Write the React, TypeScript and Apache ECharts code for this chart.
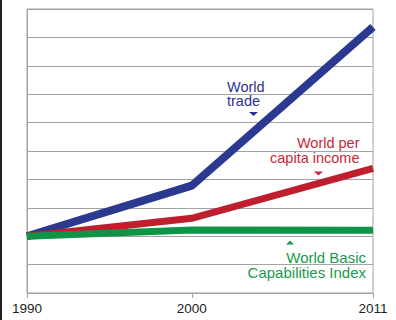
import React, { useEffect, useRef } from "react";
import * as echarts from "echarts";

const years = [1990, 2000, 2011];
const tradeValues = [2.0, 3.78, 9.37];
const incomeValues = [2.0, 2.63, 4.39];
const basicValues = [2.0, 2.22, 2.21];
const tickYears = [1990, 2000, 2011];

const FONT = '"Liberation Sans", Arial, sans-serif';

export default function App() {
  const ref = useRef<HTMLDivElement>(null);
  useEffect(() => {
    if (!ref.current) return;
    const chart = echarts.init(ref.current, undefined, { renderer: "svg" });
    const mk = (vals: number[]) => years.map((y, i) => [y, vals[i]]);
    const txt = (text: string, x: number, y: number, fill: string, align: string, fontSize: number, lineHeight: number) => ({
      type: "text",
      x,
      y,
      style: { text, fill, fontSize, lineHeight, fontFamily: FONT, align, verticalAlign: "middle" },
    });
    chart.setOption({
      animation: false,
      grid: {
        left: 27,
        right: 23,
        top: 9,
        bottom: 27,
        show: true,
        borderColor: "#a3a3a3",
        borderWidth: 1,
      },
      xAxis: {
        type: "value",
        min: 1990,
        max: 2011,
        axisLine: { show: true, lineStyle: { color: "#a3a3a3", width: 1 } },
        axisTick: { show: true, customValues: tickYears, length: 5, lineStyle: { color: "#a3a3a3" } },
        axisLabel: {
          customValues: tickYears,
          color: "#231f20",
          fontSize: 13.5,
          fontFamily: FONT,
          margin: 8,
          formatter: (v: number) => String(v),
        },
        splitLine: { show: false },
      },
      yAxis: {
        type: "value",
        min: 0,
        max: 10,
        interval: 1,
        axisLine: { show: true, lineStyle: { color: "#a3a3a3" } },
        axisTick: { show: false },
        axisLabel: { show: false },
        splitLine: { show: true, lineStyle: { color: "#a3a3a3", width: 1 } },
      },
      series: [
        {
          type: "line",
          data: mk(tradeValues),
          symbol: "none",
          lineStyle: { color: "#2b3990", width: 8, cap: "butt", join: "miter" },
        },
        {
          type: "line",
          data: mk(incomeValues),
          symbol: "none",
          lineStyle: { color: "#be1e2d", width: 7, cap: "butt", join: "miter" },
        },
        {
          type: "line",
          data: mk(basicValues),
          symbol: "none",
          lineStyle: { color: "#0e9347", width: 7, cap: "butt", join: "miter" },
        },
      ],
      graphic: [
        { type: "rect", shape: { x: 0, y: 0, width: 2, height: 320 }, style: { fill: "#231f20" } },
        txt("World\ntrade", 227, 94, "#2e3192", "left", 14.5, 14.5),
        { type: "polygon", shape: { points: [[249, 112], [258, 112], [253.5, 116]] }, style: { fill: "#2e3192" } },
        txt("World per\ncapita income", 359.5, 150.5, "#c62838", "right", 14.5, 14.5),
        { type: "polygon", shape: { points: [[314, 171.5], [323, 171.5], [318.5, 175.5]] }, style: { fill: "#c62838" } },
        { type: "polygon", shape: { points: [[286, 244.5], [294, 244.5], [290, 240.5]] }, style: { fill: "#199a4d" } },
        txt("World Basic\nCapabilities Index", 366, 264.8, "#199a4d", "right", 15, 15.5),
      ],
    });
    return () => chart.dispose();
  }, []);
  return (
    <div
      ref={ref}
      style={{ position: "fixed", left: 0, top: 0, width: 396, height: 320, background: "#fff" }}
    />
  );
}
